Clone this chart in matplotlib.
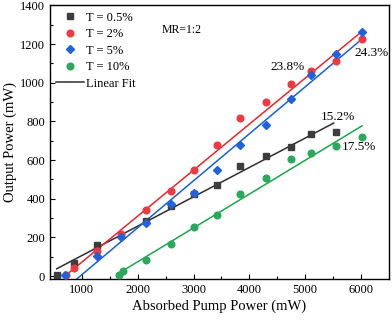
import numpy as np
import matplotlib
matplotlib.use("Agg")
import matplotlib.pyplot as plt
from matplotlib.lines import Line2D

plt.rcParams['font.family'] = ['Liberation Serif', 'DejaVu Serif']
plt.rcParams['mathtext.fontset'] = 'stix'

# ---- data ----
x_05 = [550, 860, 1280, 2150, 2600, 3000, 3420, 3840, 4300, 4750, 5100, 5550]
y_05 = [5, 70, 160, 285, 365, 425, 470, 570, 623, 670, 736, 745]

x_2 = [720, 860, 1280, 1700, 2150, 2600, 3000, 3420, 3840, 4300, 4750, 5100, 5550, 6020]
y_2 = [5, 40, 130, 220, 340, 440, 550, 680, 820, 900, 995, 1060, 1115, 1225]

x_5 = [700, 1280, 1700, 2150, 2600, 3000, 3420, 3840, 4300, 4750, 5100, 5550, 6020]
y_5 = [8, 103, 200, 273, 375, 432, 549, 680, 782, 917, 1041, 1149, 1263]

x_10 = [1670, 1730, 2150, 2600, 3000, 3420, 3840, 4300, 4750, 5100, 5550, 6020]
y_10 = [5, 27, 85, 164, 252, 316, 423, 509, 604, 636, 675, 722]

# linear fits: slope, intercept, x range
fit_slope = [0.152, 0.238, 0.243, 0.175]
fit_icpt = [-46, -166, -236, -276]
fit_x0 = [550, 720, 880, 1650]
fit_x1 = [5510, 6020, 6020, 6020]

labels = ['T = 0.5%', 'T = 2%', 'T = 5%', 'T = 10%']
eff_text = ['15.2%', '23.8%', '24.3%', '17.5%']

# ---- style ----
pt_colors = ['#3d3d3d', '#ec3a40', '#1f62da', '#2ba85c']
ln_colors = ['#2e2e2e', '#e8262e', '#1a5fd6', '#1aa64c']
markers = ['s', 'o', 'D', 'o']
msizes = [4.0, 4.8, 4.0, 4.8]

fig = plt.figure(figsize=(3.92, 3.21), dpi=100)
ax = fig.add_axes([0.1276, 0.131, 0.8647, 0.852])

xs = [x_05, x_2, x_5, x_10]
ys = [y_05, y_2, y_5, y_10]

for i in range(4):
    fx = np.array([fit_x0[i], fit_x1[i]])
    ax.plot(fx, fit_slope[i] * fx + fit_icpt[i], color=ln_colors[i], lw=1.1, zorder=2)

for i in range(4):
    ax.plot(xs[i], ys[i], linestyle='none', marker=markers[i], ms=msizes[i],
            color=pt_colors[i], mec=pt_colors[i], zorder=3)

ax.set_xlim(430, 6500)
ax.set_ylim(-15, 1400)
ax.set_xticks([1000, 2000, 3000, 4000, 5000, 6000])
ax.set_xticks(np.arange(500, 6501, 500), minor=True)
ax.set_yticks(np.arange(0, 1401, 200))
ax.set_yticks(np.arange(100, 1400, 200), minor=True)
ax.tick_params(which='both', direction='in', labelsize=9, width=0.8)
ax.tick_params(which='major', length=3.5)
ax.tick_params(which='minor', length=2)
for s in ax.spines.values():
    s.set_linewidth(1.0)

ax.set_xlabel('Absorbed Pump Power (mW)', fontsize=10.5, labelpad=3)
ax.set_ylabel('Output Power (mW)', fontsize=10.5, labelpad=2)

# annotations
ax.text(2780, 1275, 'MR=1:2', fontsize=8.5, ha='center', va='center')
ax.text(5584, 824, eff_text[0], fontsize=9.5, ha='center', va='center')
ax.text(4685, 1083, eff_text[1], fontsize=9.5, ha='center', va='center')
ax.text(6185, 1155, eff_text[2], fontsize=9.5, ha='center', va='center')
ax.text(5970, 668, eff_text[3], fontsize=9.5, ha='center', va='center')

handles = [Line2D([], [], linestyle='none', marker=markers[i], ms=msizes[i],
                  color=pt_colors[i]) for i in range(4)]
handles.append(Line2D([], [], color='#2e2e2e', lw=1.1))
ax.legend(handles, labels + ['Linear Fit'], loc='upper left', frameon=False,
          fontsize=9, handlelength=2.2, handletextpad=0.2, labelspacing=0.36,
          borderaxespad=0.2, borderpad=0.3)

fig.savefig('out.png', dpi=100)
